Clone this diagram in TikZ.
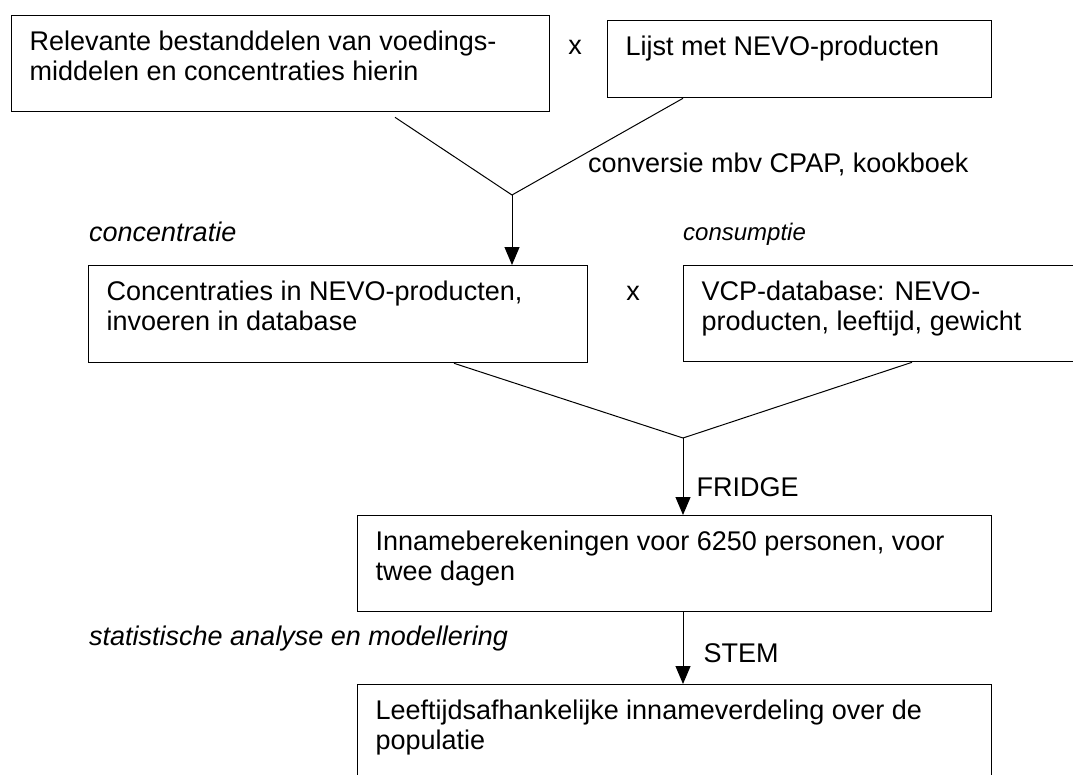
\documentclass[tikz,border=0pt]{standalone}
\usepackage{fontspec}
\setmainfont{Liberation Sans}
\usetikzlibrary{arrows.meta}
\newcommand{\bodyfont}{\fontsize{27}{30}\selectfont}
\newcommand{\boxlines}[3]{\begin{minipage}[t][#2][t]{#1}\strut#3\end{minipage}}
\tikzset{
  stepbox/.style={draw, line width=1.3pt, inner xsep=18pt, inner ysep=14pt, anchor=north west, font=\bodyfont},
  plain/.style={inner sep=0pt, anchor=base west, font=\bodyfont},
  merge/.style={line width=1pt},
  flow/.style={line width=1pt, -{Triangle[length=18pt,width=15pt]}},
}
\begin{document}
\begin{tikzpicture}[x=1pt,y=1pt,yscale=-1,xscale=1]
\useasboundingbox (0,0) rectangle (1073,774);
\clip (0,0) rectangle (1073,774);

%Shape: Rectangle
\node[stepbox] (nutr) at (11,15) {\boxlines{502pt}{68pt}{Relevante bestanddelen van voedings-\\middelen en concentraties hierin}};
%Shape: Rectangle
\node[stepbox] (nevo) at (607,20) {\boxlines{348pt}{49pt}{Lijst met NEVO-producten}};
%Shape: Rectangle
\node[stepbox] (concbox) at (88,265) {\boxlines{463pt}{69pt}{Concentraties in NEVO-producten,\\invoeren in database}};
%Shape: Rectangle
\node[stepbox] (vcp) at (683,265) {\boxlines{384pt}{68pt}{VCP-database: NEVO-\\producten, leeftijd, gewicht}};
%Shape: Rectangle
\node[stepbox] (intake) at (357,515) {\boxlines{598pt}{68pt}{Innameberekeningen voor 6250 personen, voor\\twee dagen}};
%Shape: Rectangle
\node[stepbox] (distr) at (357,684) {\boxlines{598pt}{102pt}{Leeftijdsafhankelijke innameverdeling over de\\populatie}};

\coordinate (m1) at (512,195);
\coordinate (m2) at (683,438);

%Straight Lines
\draw[merge] ([shift={(384,5)}]nutr.south west) -- (m1);
\draw[merge] ([shift={(76,0)}]nevo.south west) -- (m1);
\draw[flow] (m1) -- (m1 |- concbox.north);
%Straight Lines
\draw[merge] ([shift={(366,0)}]concbox.south west) -- (m2);
\draw[merge] ([shift={(229,0)}]vcp.south west) -- (m2);
\draw[flow] (m2) -- node[plain, anchor=west, pos=0.64, xshift=13pt] (fridge) {FRIDGE} (m2 |- intake.north);
\draw[flow] (m2 |- intake.south) -- node[plain, anchor=west, pos=0.575, xshift=20pt] (stem) {STEM} (m2 |- distr.north);

% Text Node
\node[plain, anchor=base] (times1) at (575,54) {x};
\node[plain, anchor=base] (times2) at (633,300) {x};
% Text Node
\node[plain] (conv) at (588,172) {conversie mbv CPAP, kookboek};
\node[plain, font=\bodyfont\itshape] (conclbl) at (89,241) {concentratie};
\node[plain, font=\fontsize{24}{27}\selectfont\itshape] (conslbl) at (683,240) {consumptie};
\node[plain, font=\bodyfont\itshape] (statlbl) at (89,645) {statistische analyse en modellering};

\end{tikzpicture}
\end{document}
